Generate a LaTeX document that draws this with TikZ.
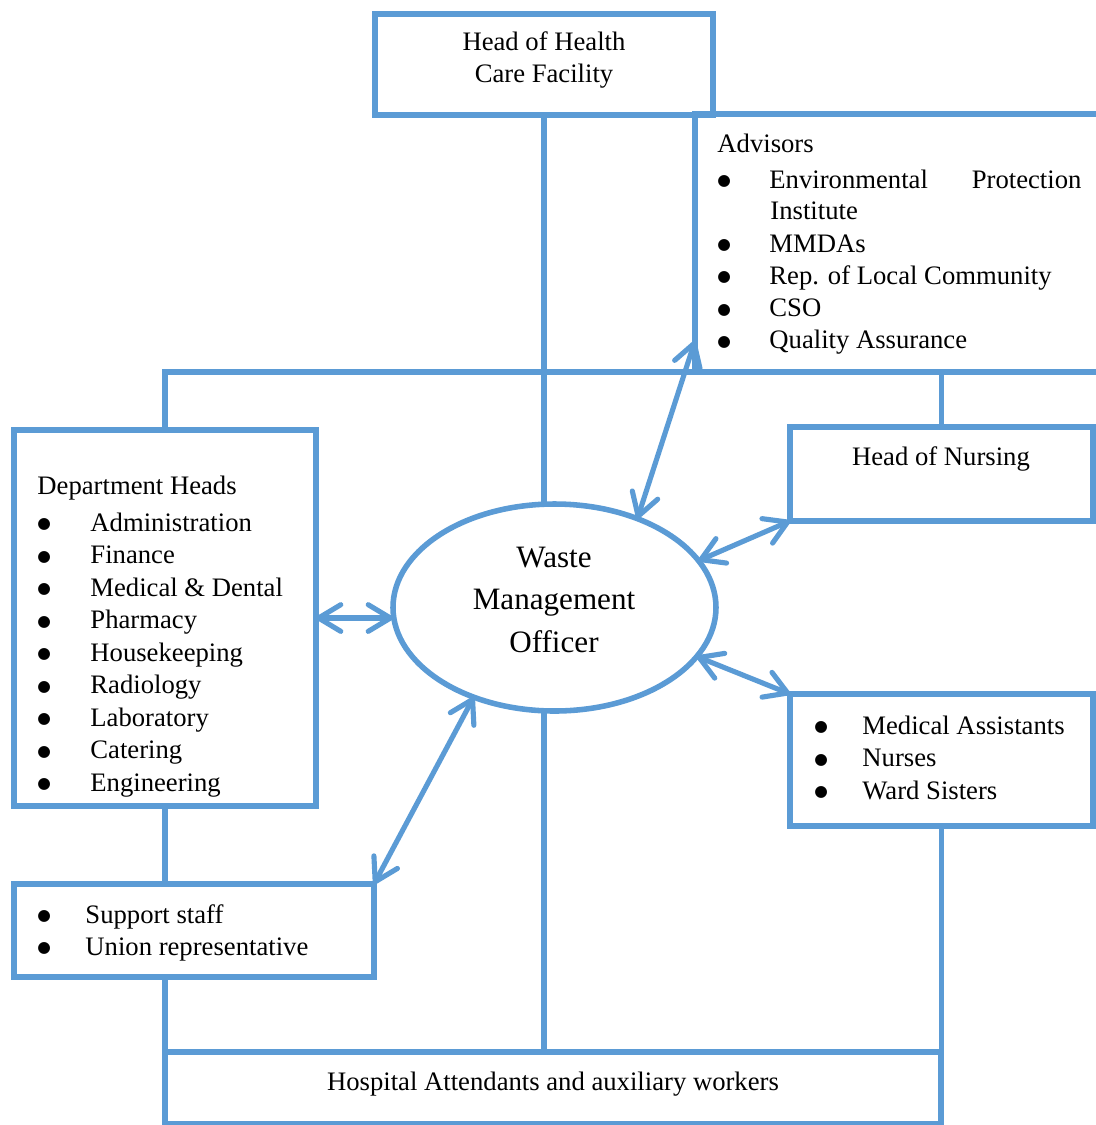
\documentclass[tikz,border=0pt]{standalone}
\usepackage{fontspec}
\setmainfont{Liberation Serif}
\newfontfamily\bulfont{DejaVu Sans}
\usetikzlibrary{shapes.geometric,arrows.meta}
\definecolor{chartblue}{HTML}{5B9BD5}
\tikzset{
  box/.style={draw=chartblue,line width=2.7pt,rectangle,inner sep=0pt,outer sep=0pt,anchor=north west},
  conn/.style={draw=chartblue,line width=2.3pt},
  dbl/.style={conn,>={Straight Barb[length=10pt,width=12pt,round]},<->},
  txt/.style={inner sep=0pt,font=\fontsize{12}{14}\selectfont},
  wmo/.style={inner sep=0pt,font=\fontsize{14}{17}\selectfont,anchor=base},
}
\newcommand{\listbul}[1]{\makebox[#1][l]{\raisebox{1pt}{\bulfont\fontsize{7}{8}\selectfont ●}}}
\begin{document}
\begin{tikzpicture}[x=0.45pt,y=-0.45pt]
\useasboundingbox (0,0) rectangle (1096,1125);
% texts
\node[txt,anchor=base] (headl1) at (544,50) {Head of Health};
\node[txt,anchor=base] (headl2) at (544,82) {Care Facility};
\node[txt,anchor=base west] (advtitle) at (717,152) {Advisors};
\node[txt,anchor=base west] (adv1) at (717,188) {\listbul{23.4pt}\makebox[140.4pt][s]{Environmental\hfill Protection}};
\node[txt,anchor=base west] (adv1b) at (770,219) {Institute};
\foreach \t [count=\i from 2] in {MMDAs,Rep. of Local Community,CSO,Quality Assurance}
  \node[txt,anchor=base west] (adv\i) at (717,{252+32.2*(\i-2)}) {\listbul{23.4pt}\t};
\node[txt,anchor=base west] (depttitle) at (37,494) {Department Heads};
\foreach \t [count=\i] in {Administration,Finance,Medical \& Dental,Pharmacy,Housekeeping,Radiology,Laboratory,Catering,Engineering}
  \node[txt,anchor=base west] (dept\i) at (37,{531+32.5*(\i-1)}) {\listbul{23.85pt}\t};
\node[txt,anchor=base] (hntxt) at (941,465) {Head of Nursing};
\foreach \t [count=\i] in {Medical Assistants,Nurses,Ward Sisters}
  \node[txt,anchor=base west] (ma\i) at (814,{734+32.5*(\i-1)}) {\listbul{21.6pt}\t};
\foreach \t [count=\i] in {Support staff,Union representative}
  \node[txt,anchor=base west] (supp\i) at (37,{923+32*(\i-1)}) {\listbul{21.6pt}\t};
\foreach \t [count=\i] in {Waste,Management,Officer}
  \node[wmo] (wmo\i) at (554,{567+42.5*(\i-1)}) {\t};
\node[txt,anchor=base] (atttxt) at (553,1090) {Hospital Attendants and auxiliary workers};
% boxes
\node[box,minimum width=152.1pt,minimum height=45.45pt] (head) at (375,14) {};
\node[box,minimum width=189pt,minimum height=116.1pt] (adv) at (695,114) {};
\node[box,minimum width=135.9pt,minimum height=169.2pt] (dept) at (14,430) {};
\node[box,minimum width=162pt,minimum height=41.85pt] (supp) at (14,884) {};
\node[box,minimum width=136.35pt,minimum height=42.3pt] (hn) at (790,427) {};
\node[box,minimum width=136.35pt,minimum height=59.4pt] (ma) at (790,694) {};
\node[box,minimum width=349.2pt,minimum height=32.4pt] (att) at (165,1052) {};
\node[draw=chartblue,line width=2.5pt,ellipse,inner sep=0pt,outer sep=0pt,
  minimum width=145.35pt,minimum height=93.15pt] (ell) at (554.5,607.5) {};
% lines
\draw[conn] (dept.north) |- (adv.south east);
\draw[conn] (hn.north) -- (hn.north |- adv.south);
\draw[conn] (head.south) -- (head.south |- ell.north);
\draw[conn] (head.south |- ell.south) -- (head.south |- att.north);
\draw[conn] (dept.south) -- (dept.south |- supp.north);
\draw[conn] (dept.south |- supp.south) -- (dept.south |- att.north);
\draw[conn] (ma.south) -- (ma.south |- att.north);
% arrows
\draw[dbl] (dept.east) -- (dept.east -| ell.west);
\draw[dbl] ([yshift=14pt]adv.south west) -- (ell.47);
\draw[dbl] (hn.south west) -- (ell.18);
\draw[dbl] (ma.north west) -- (ell.-19);
\draw[dbl] (supp.north east) -- (ell.-132);
\end{tikzpicture}
\end{document}
